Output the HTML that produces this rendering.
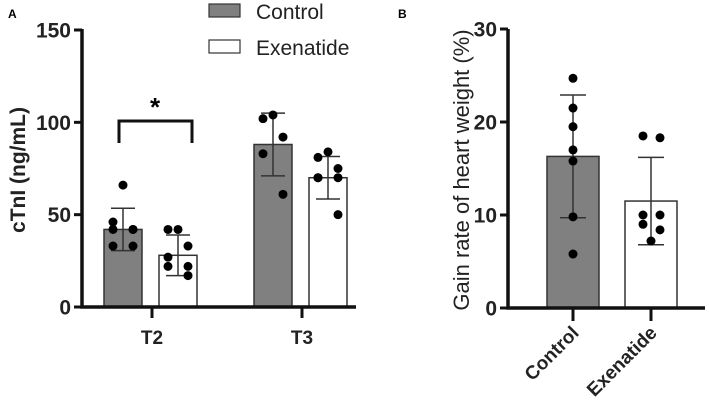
<!DOCTYPE html>
<html><head><meta charset="utf-8"><style>
body{margin:0;background:#fff}
svg{display:block;font-family:"Liberation Sans",Arial,sans-serif}
</style></head><body>
<svg id="c" width="709" height="413" viewBox="0 0 709 413" xmlns="http://www.w3.org/2000/svg"></svg>
<script>
// Panel A data
const aGroups = ["T2","T3"];
const aSeries = ["Control","Exenatide"];
const aMeans = [[42,28],[88,70]];
const aSD = [[11.5,11],[17,11.5]];
const aPoints = [
  [[66,46,42,42,42,33,33],[42,42,33,27,22,22,17]],
  [[104,102,92,83,61],[84,81,75,70,70,70,50]]
];
const aTicks = [0,50,100,150];
// Panel B data
const bCats = ["Control","Exenatide"];
const bMeans = [16.3,11.5];
const bSD = [6.6,4.7];
const bPoints = [[24.7,21.5,19.5,17,15.8,9.8,5.8],[18.5,18.3,10,10,9,8.4,7.2]];
const bTicks = [0,10,20,30];

const NS="http://www.w3.org/2000/svg";
const svg=document.getElementById('c');
function mk(t,a,p){const e=document.createElementNS(NS,t);for(const k in a)e.setAttribute(k,a[k]);(p||svg).appendChild(e);return e;}
const fills=["#808080","#ffffff"];

// ---- Panel A ----
const ay=v=>307-v*(277/150);
const aGroupX=[152,302], aOff=[-29,26], bw=38;
let t=mk('text',{x:8,y:18,'font-size':12,'font-weight':'bold'});t.textContent="A";


aTicks.forEach(v=>{
  let l=mk('line',{x1:74,x2:82,y1:ay(v),y2:ay(v),stroke:'#111','stroke-width':3});
  
  
  let tx=mk('text',{x:71,y:ay(v)+7.5,'font-size':21,'font-weight':'bold','text-anchor':'end',fill:'#222'});tx.textContent=v;
  
  
});
aGroups.forEach((g,gi)=>{
  aSeries.forEach((s,si)=>{
    const cx=aGroupX[gi]+aOff[si];
    let r=mk('rect',{x:cx-bw/2,y:ay(aMeans[gi][si]),width:bw,height:ay(0)-ay(aMeans[gi][si]),fill:fills[si],stroke:'#333','stroke-width':1.5});
    
    
    const m=aMeans[gi][si],sd=aSD[gi][si];
    let e=mk('path',{d:`M${cx},${ay(m+sd)}V${ay(m-sd)}M${cx-12},${ay(m+sd)}h24M${cx-12},${ay(m-sd)}h24`,stroke:'#333','stroke-width':1.5,fill:'none'});
    
    
    aPoints[gi][si].forEach((v,i)=>{
      const off=[0,-10,10,-10,10,-10,10][i%7]*(i===0?0:1);
      let c=mk('circle',{cx:cx+off,cy:ay(v),r:4.5,fill:'#000'});
      
      
    });
  });
  let tk=mk('line',{x1:aGroupX[gi],x2:aGroupX[gi],y1:307,y2:318,stroke:'#111','stroke-width':3});
  
  
  let lb=mk('text',{x:aGroupX[gi],y:344,'font-size':19,'font-weight':'bold','text-anchor':'middle',fill:'#222'});lb.textContent=g;
  
  
});
let axA=mk('path',{d:'M82,29V307H356',stroke:'#111','stroke-width':3.5,fill:'none'});


let ytA=mk('text',{transform:'translate(25,170) rotate(-90)','font-size':21,'font-weight':'bold','text-anchor':'middle',fill:'#222'});ytA.textContent="cTnI (ng/mL)";


let br=mk('path',{d:`M119,143V121H192V143`,stroke:'#111','stroke-width':3,fill:'none'});


let st=mk('text',{x:155,y:116,'font-size':26,'font-weight':'bold','text-anchor':'middle'});st.textContent="*";


aSeries.forEach((s,si)=>{
  const y=si?40:4;
  let sw=mk('rect',{x:209,y:y,width:31,height:13,fill:fills[si],stroke:'#333','stroke-width':1.2});
  
  
  let lt=mk('text',{x:256,y:y+15,'font-size':21,fill:'#222'});lt.textContent=s;
  
  
});

// ---- Panel B ----
const by=v=>308-v*(279/30);
const bX=[573,651], bbw=52;
let tb=mk('text',{x:398,y:18,'font-size':12,'font-weight':'bold'});tb.textContent="B";


bTicks.forEach(v=>{
  let l=mk('line',{x1:500,x2:508,y1:by(v),y2:by(v),stroke:'#111','stroke-width':3});
  
  
  let tx=mk('text',{x:497,y:by(v)+7.5,'font-size':21,'font-weight':'bold','text-anchor':'end',fill:'#222'});tx.textContent=v;
  
  
});
bCats.forEach((c,i)=>{
  const cx=bX[i];
  let r=mk('rect',{x:cx-bbw/2,y:by(bMeans[i]),width:bbw,height:by(0)-by(bMeans[i]),fill:fills[i],stroke:'#333','stroke-width':1.5});
  
  
  const m=bMeans[i],sd=bSD[i];
  let e=mk('path',{d:`M${cx},${by(m+sd)}V${by(m-sd)}M${cx-13},${by(m+sd)}h26M${cx-13},${by(m-sd)}h26`,stroke:'#333','stroke-width':1.5,fill:'none'});
  
  
  bPoints[i].forEach((v,j)=>{
    const off=i===0?0:[-8,9,-8,9,-8,9,0][j];
    let p=mk('circle',{cx:cx+off,cy:by(v),r:4.5,fill:'#000'});
    
    
  });
  let tk=mk('line',{x1:cx,x2:cx,y1:308,y2:321,stroke:'#111','stroke-width':3});
  
  
  let lb=mk('text',{transform:`translate(${cx+7},${334}) rotate(-45)`,'font-size':19,'font-weight':'bold','text-anchor':'end',fill:'#222'});lb.textContent=c;
  
  
});
let axB=mk('path',{d:'M508,29V308H705',stroke:'#111','stroke-width':3.5,fill:'none'});


let ytB=mk('text',{transform:'translate(469,170) rotate(-90)','font-size':22,'text-anchor':'middle',fill:'#222'});ytB.textContent="Gain rate of heart weight (%)";


</script>
</body></html>
